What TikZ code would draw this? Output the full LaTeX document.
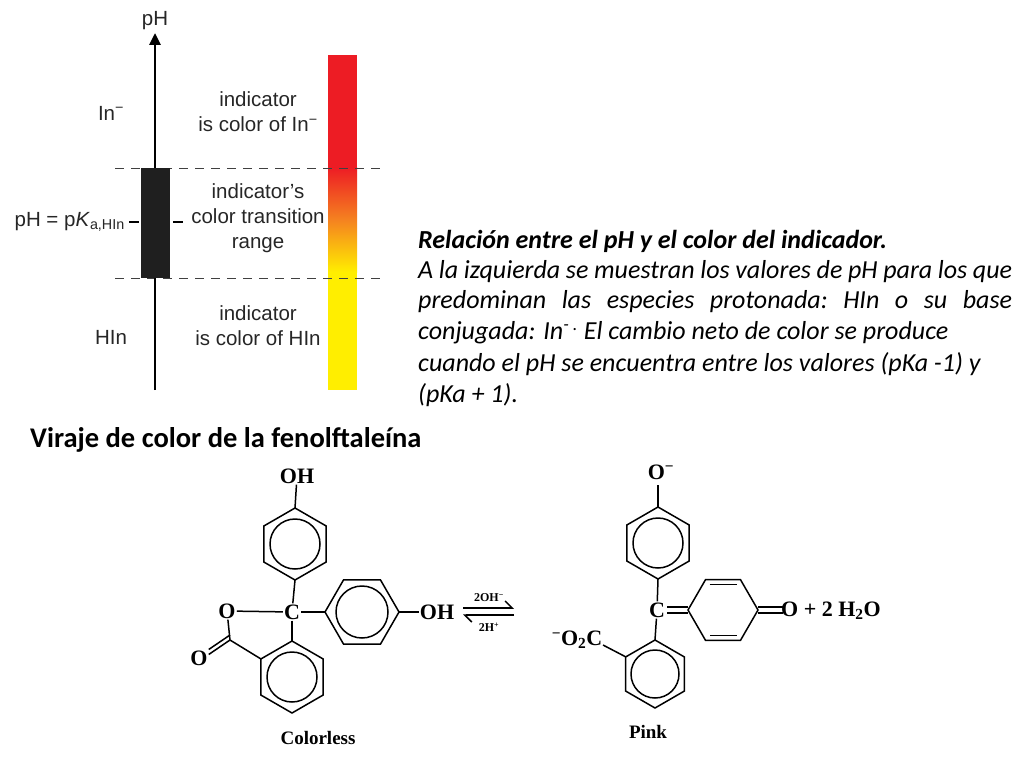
\documentclass[tikz,border=0pt]{standalone}
\usepackage{fontspec}
\setmainfont{Carlito}
\newfontfamily\lsans{Liberation Sans}
\newfontfamily\chem{Liberation Serif}
\usetikzlibrary{arrows.meta,calc}
\definecolor{ired}{RGB}{237,28,36}
\definecolor{iyel}{RGB}{255,238,0}
\definecolor{iora}{RGB}{245,130,32}
\tikzset{
 lab/.style={font=\lsans\fontsize{20.5}{25}\selectfont, text=black!85, inner sep=0pt},
 para/.style={font=\fontsize{26}{28}\selectfont\itshape, anchor=west, inner sep=0pt},
 chm/.style={font=\chem\bfseries\fontsize{22}{22}\selectfont, inner sep=1pt},
 bond/.style={line width=1.5pt},
 dash line/.style={dashed, dash pattern=on 9pt off 7pt, line width=0.8pt, black!75}
}
\begin{document}
\begin{tikzpicture}[x=1pt,y=-1pt]
\useasboundingbox (0,0) rectangle (1024,768);
% color bar
\fill[ired] (328,55) rectangle (357,168);
\shade[top color=ired, bottom color=iyel, middle color=iora] (328,167.5) rectangle (357,272);
\fill[iyel] (328,271.5) rectangle (357,390);
% dashed lines
\draw[dash line] (115,168) -- (385,168);
\draw[dash line] (115,278) -- (385,278);
% axis
\coordinate (axb) at (155,390);
\node[lab] (ph) at (155,21) {pH};
\draw[line width=2.8pt,-{Triangle[length=12pt,width=11pt]}] (axb) -- (155,33);
\fill[black!88] (141,168) rectangle (170,278);
\draw[line width=2pt] (129,222) -- (139,222) (173,222) -- (183,222);
\node[lab,anchor=east] (pka) at (125,222) {pH = p\textit{K}\textsubscript{a,HIn}};
\node[lab] (inm) at (111,113) {In\textsuperscript{−}};
\node[lab] (hin) at (111,337) {HIn};
\node[lab,align=center] (t1) at (258,112) {indicator\\is color of In\textsuperscript{−}};
\node[lab,align=center] (t2) at (258,218) {indicator’s\\color transition\\range};
\node[lab,align=center] (t3) at (258,326) {indicator\\is color of HIn};
% paragraph
\node[para,font=\fontsize{26}{28}\selectfont\bfseries\itshape] (p0) at (418,241) {Relación entre el pH y el color del indicador.};
\node[para] (p1) at (418,272) {\hbox to 594pt{A la izquierda se muestran los valores de pH para los que}};
\node[para] (p2) at (418,302) {\hbox to 594pt{predominan\hfill las\hfill especies\hfill protonada:\hfill HIn\hfill o\hfill su\hfill base}};
\node[para] (p3) at (418,333) {conjugada: In\textsuperscript{- .} El cambio neto de color se produce};
\node[para] (p4) at (418,364) {cuando el pH se encuentra entre los valores (pKa -1) y};
\node[para] (p5) at (418,395) {(pKa + 1).};
\node[anchor=west,inner sep=0pt,font=\fontsize{28.5}{30}\selectfont\bfseries] (title) at (30,440) {Viraje de color de la fenolftaleína};
% ===== left molecule =====
\draw[bond,shift={(295,544)}] (90:36)--(150:36)--(210:36)--(270:36)--(330:36)--(30:36)--cycle (0,0) circle (25);
\node[chm] (oh1) at (297,476) {OH};
\draw[bond] (oh1) -- (295,508);
\node[chm] (c1) at (292,612) {C};
\draw[bond] (295,580) -- (c1);
\draw[bond,shift={(362,612)}] (0:37)--(60:37)--(120:37)--(180:37)--(240:37)--(300:37)--cycle (0,0) circle (26);
\draw[bond] (c1) -- (325,612);
\node[chm] (oh2) at (437,612) {OH};
\draw[bond] (399,612) -- (oh2);
\draw[bond,shift={(292,677)}] (90:36)--(150:36)--(210:36)--(270:36)--(330:36)--(30:36)--cycle (0,0) circle (25);
\draw[bond] (c1) -- (292,641);
\node[chm] (o1) at (227,611) {O};
\draw[bond] (o1) -- (c1);
\coordinate (cc) at (230,640);
\draw[bond] (o1) -- (cc) -- (261,659);
\node[chm] (o2) at (199,658) {O};
\draw[bond] (cc) -- (o2.20);
\draw[bond] ([yshift=5]cc) -- ([yshift=5]o2.20);
\node[chm,font=\chem\bfseries\fontsize{19}{20}\selectfont] (cl) at (318,738) {Colorless};
% equilibrium arrows
\coordinate (ea) at (463,608);
\coordinate (eb) at (514,608);
\draw[line width=1.5pt,-{Straight Barb[left,length=7pt]}] (ea) -- (eb);
\draw[line width=1.5pt,-{Straight Barb[left,length=7pt]}] (514,615) -- (463,615);
\node[chm,font=\chem\bfseries\fontsize{12}{12}\selectfont] (aoh) at (489,598) {2OH\textsuperscript{−}};
\node[chm,font=\chem\bfseries\fontsize{12}{12}\selectfont] (ah) at (489,627) {2H\textsuperscript{+}};
% ===== right molecule =====
\draw[bond,shift={(658,543)}] (90:36)--(150:36)--(210:36)--(270:36)--(330:36)--(30:36)--cycle (0,0) circle (25);
\node[chm] (om) at (661,472) {O\textsuperscript{−}};
\draw[bond] (658,485) -- (658,507);
\node[chm] (c2) at (657,610) {C};
\draw[bond] (658,579) -- (c2);
\begin{scope}[shift={(723,610)}]
\draw[bond] (0:35)--(60:35)--(120:35)--(180:35)--(240:35)--(300:35)--cycle;
\draw[bond] ($(60:35)+(-4,-5)$) -- ($(120:35)+(4,-5)$);
\draw[bond] ($(240:35)+(4,5)$) -- ($(300:35)+(-4,5)$);
\end{scope}
\draw[bond] (667,607) -- (688,607) (667,613) -- (688,613);
\node[chm,anchor=west] (o3) at (780,611) {O + 2 H\textsubscript{2}O};
\draw[bond] (758,607) -- (783,607) (758,613) -- (783,613);
\draw[bond,shift={(655,674)}] (90:34)--(150:34)--(210:34)--(270:34)--(330:34)--(30:34)--cycle (0,0) circle (24);
\draw[bond] (c2) -- (655,640);
\node[chm] (co2) at (577,640) {\textsuperscript{−}O\textsubscript{2}C};
\draw[bond] (603,645) -- (626,657);
\node[chm,font=\chem\bfseries\fontsize{19}{20}\selectfont] (pk) at (648,732) {Pink};
\end{tikzpicture}
\end{document}
